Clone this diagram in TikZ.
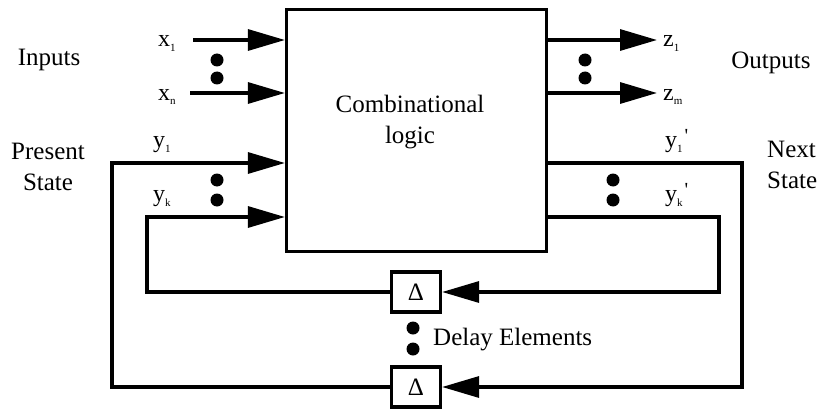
\documentclass[tikz,border=0pt]{standalone}
\usepackage{fontspec}
\setmainfont{Liberation Serif}
\usetikzlibrary{arrows.meta}
\newcommand\mysub[1]{\raisebox{-5pt}{\fontsize{11}{11}\selectfont #1}}
\newcommand\myprime{\kern2pt\raisebox{5pt}{\fontsize{20}{20}\selectfont\textquotesingle}}
\begin{document}
\begin{tikzpicture}[x=1pt,y=-1pt,
  wire/.style={line width=3.2pt, line join=miter},
  arr/.style={wire,-{Triangle[length=37pt,width=21pt]}},
  dot/.style={circle,fill=black,inner sep=0pt,minimum size=13pt},
  lbl/.style={font=\fontsize{25}{31}\selectfont, inner sep=0pt},
  var/.style={font=\fontsize{24}{24}\selectfont, inner sep=0pt, anchor=base west},
  delaybox/.style={draw, line width=3.2pt, minimum width=49pt, minimum height=40pt, inner sep=0pt, font=\fontsize{25}{25}\selectfont}
]
\useasboundingbox (0,0) rectangle (818,409);
\fill[white] (0,0) rectangle (818,409);

% main block
\node[draw, line width=3.2pt, minimum width=260pt, minimum height=242pt, inner sep=0pt] (cl) at (416.5,130.5) {};
\node[lbl, align=center] (cltext) at (410,122) {Combinational\\logic};

% delay boxes
\node[delaybox] (dU) at (416,292) {Δ};
\node[delaybox] (dL) at (416,387) {Δ};

% side labels
\node[lbl] (inputs) at (49,60) {Inputs};
\node[lbl] (outputs) at (771,63) {Outputs};
\node[lbl, align=center] (present) at (48,167) {Present\\State};
\node[lbl, align=left, anchor=west] (next) at (767,165) {Next\\State};
\node[lbl, anchor=base west] (delay) at (433,345) {Delay Elements};

% variable labels
\node[var] (lx1) at (158,47) {x\mysub{1}};
\node[var] (lxn) at (158,100) {x\mysub{n}};
\node[var] (lz1) at (663,47) {z\mysub{1}};
\node[var] (lzm) at (663,100) {z\mysub{m}};
\node[var] (ly1) at (153,147) {y\mysub{1}};
\node[var] (lyk) at (153,201) {y\mysub{k}};
\node[var] (ly1p) at (665,147) {y\mysub{1}\myprime};
\node[var] (lykp) at (665,201) {y\mysub{k}\myprime};

% dots
\node[dot] (d1) at (217,60) {};
\node[dot] (d2) at (217,78) {};
\node[dot] (d3) at (585,60) {};
\node[dot] (d4) at (585,78) {};
\node[dot] (d5) at (217,180) {};
\node[dot] (d6) at (217,200) {};
\node[dot] (d7) at (613,180) {};
\node[dot] (d8) at (613,200) {};
\node[dot] (d9) at (413,328) {};
\node[dot] (d10) at (413,349) {};

% inputs and outputs
\coordinate (x1s) at (193,40);
\coordinate (xns) at (190,93);
\coordinate (z1e) at (657,40);
\coordinate (zme) at (657,93);
\draw[arr] (x1s) -- (x1s -| cl.west);
\draw[arr] (xns) -- (xns -| cl.west);
\draw[arr] (z1e -| cl.east) -- (z1e);
\draw[arr] (zme -| cl.east) -- (zme);

% state feedback loops
\coordinate (oLc) at (112,163);
\coordinate (iLc) at (147,217);
\coordinate (oRc) at (742,163);
\coordinate (iRc) at (719,217);
\draw[arr] (dL.west) -| (oLc) -- (oLc -| cl.west);
\draw[arr] (dU.west) -| (iLc) -- (iLc -| cl.west);
\draw[arr] (oRc -| cl.east) -- (oRc) |- (dL.east);
\draw[arr] (iRc -| cl.east) -- (iRc) |- (dU.east);
\end{tikzpicture}
\end{document}
